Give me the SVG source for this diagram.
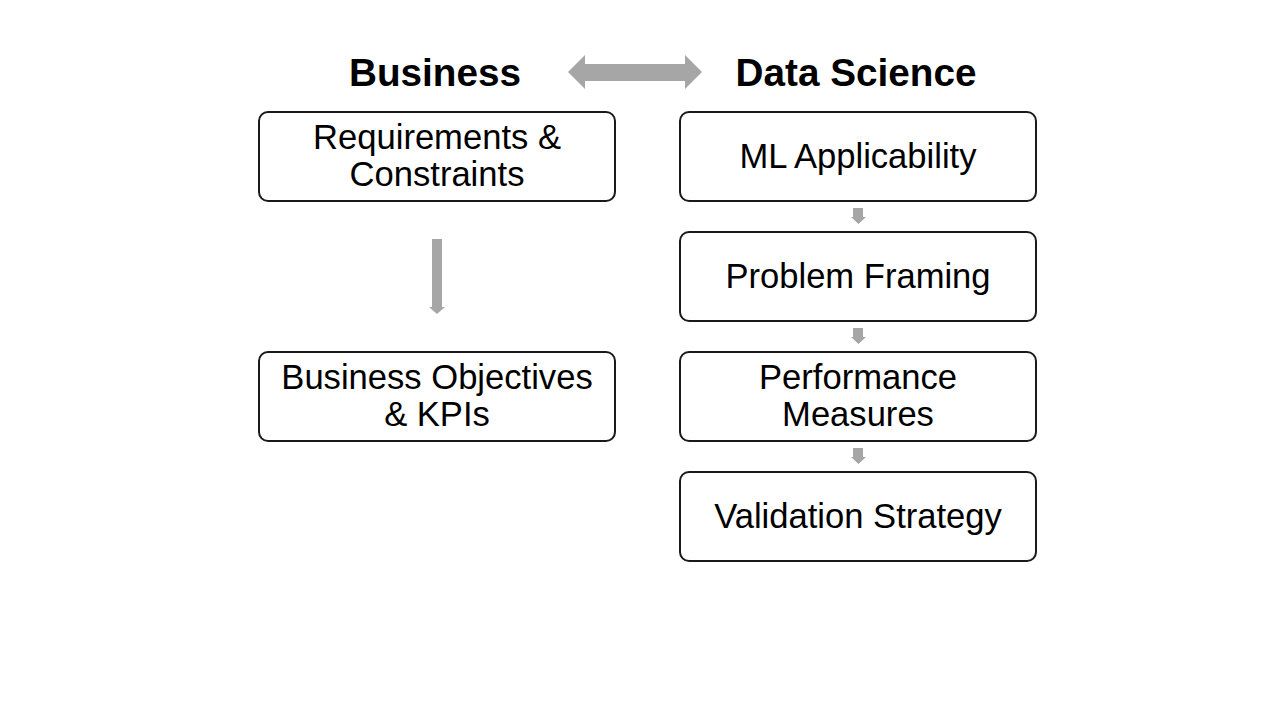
<svg xmlns="http://www.w3.org/2000/svg" width="1280" height="720" viewBox="0 0 1280 720">
<style>
.box{fill:#fff;stroke:#1a1a1a;stroke-width:2}
.t{font-family:"Liberation Sans",Arial,sans-serif;font-size:34.6px;fill:#000;text-anchor:middle}
.h{font-family:"Liberation Sans",Arial,sans-serif;font-size:38.7px;font-weight:bold;fill:#000;text-anchor:middle}
.arr{fill:#a6a6a6}
</style>
<rect width="1280" height="720" fill="#fff"/>
<g id="hdr-business"><text class="h" x="435" y="86">Business</text></g>
<g id="hdr-ds"><text class="h" x="856" y="86">Data Science</text></g>
<g id="connectors">
<polygon class="arr" points="568,72 585,55 585,64 685,64 685,55 702,72 685,89 685,81 585,81 585,89"/>
<polygon class="arr" points="432,239 442,239 442,307 445,307 437,314 429,307 432,307"/>
<polygon class="arr" points="853,208 863,208 863,217 866,217 858.5,224 851,217 853,217"/>
<polygon class="arr" points="853,328 863,328 863,337 866,337 858.5,344 851,337 853,337"/>
<polygon class="arr" points="853,448 863,448 863,457 866,457 858.5,464 851,457 853,457"/>
</g>
<g id="req"><rect class="box" x="259" y="112" width="356" height="89" rx="9"/><text class="t" x="437" y="149">Requirements &amp;</text><text class="t" x="437" y="186">Constraints</text></g>
<g id="obj"><rect class="box" x="259" y="352" width="356" height="89" rx="9"/><text class="t" x="437" y="389">Business Objectives</text><text class="t" x="437" y="426">&amp; KPIs</text></g>
<g id="ml"><rect class="box" x="680" y="112" width="356" height="89" rx="9"/><text class="t" x="858" y="168">ML Applicability</text></g>
<g id="pf"><rect class="box" x="680" y="232" width="356" height="89" rx="9"/><text class="t" x="858" y="288">Problem Framing</text></g>
<g id="pm"><rect class="box" x="680" y="352" width="356" height="89" rx="9"/><text class="t" x="858" y="389">Performance</text><text class="t" x="858" y="426">Measures</text></g>
<g id="vs"><rect class="box" x="680" y="472" width="356" height="89" rx="9"/><text class="t" x="858" y="528">Validation Strategy</text></g>
</svg>
